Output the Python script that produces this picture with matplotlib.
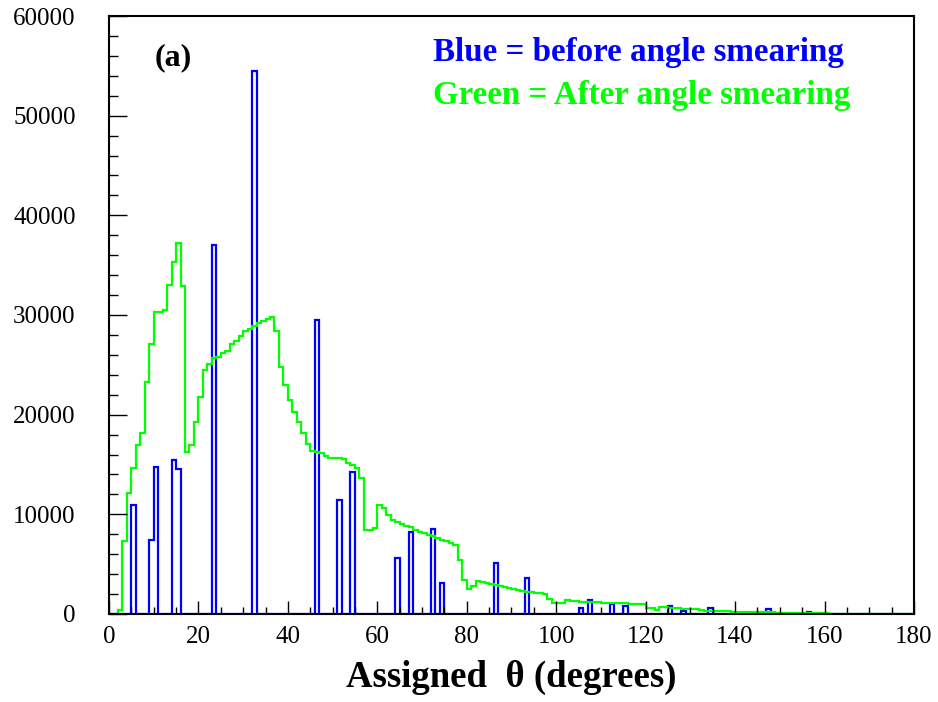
import numpy as np
import matplotlib
matplotlib.use("Agg")
import matplotlib.pyplot as plt
from matplotlib.ticker import MultipleLocator

plt.rcParams['font.family'] = ['Liberation Serif', 'DejaVu Serif']

# 1-degree bins from 0 to 180
edges = np.arange(0, 181, 1)

# reconstructed theta before smearing: only a handful of discrete angles are filled
blue_bins = [5, 9, 10, 14, 15, 23, 32, 46, 51, 54, 64, 67, 72, 74, 86, 93,
             105, 107, 112, 115, 125, 128, 134, 147, 156]
blue_counts = [10900, 7400, 14700, 15400, 14500, 37000, 54500, 29500, 11400,
               14200, 5600, 8200, 8500, 3100, 5100, 3600,
               550, 1450, 970, 820, 800, 330, 600, 530, 200]

# theta after smearing, one entry per bin
green_counts = [
    0, 0, 350, 7300, 12100, 14600, 17000, 18200, 23300, 27100,
    30300, 30300, 30500, 33000, 35300, 37200, 32900, 16300, 17000, 19300,
    21800, 24500, 25100, 25700, 25800, 26200, 26400, 27100, 27400, 27900,
    28400, 28600, 28900, 29200, 29400, 29600, 29800, 28400, 24800, 23000,
    21500, 20300, 19300, 18200, 17100, 16400, 16300, 16200, 15900, 15700,
    15700, 15600, 15500, 15100, 14900, 14600, 13600, 8400, 8400, 8600,
    10900, 10600, 9900, 9400, 9200, 9000, 8800, 8700, 8400, 8200,
    8100, 7900, 7800, 7600, 7400, 7300, 7100, 6900, 5400, 3400,
    2500, 2800, 3300, 3200, 3100, 3000, 2900, 2800, 2700, 2600,
    2500, 2400, 2300, 2250, 2200, 2150, 2100, 2000, 1470, 1140,
    1070, 1140, 1440, 1340, 1340, 1250, 1250, 1240, 1230, 1200,
    1150, 1130, 1120, 1100, 1080, 1060, 1050, 1030, 1000, 980,
    570, 560, 400, 680, 660, 580, 570, 560, 480, 470,
    460, 450, 350, 340, 330, 330, 320, 310, 300, 240,
    230, 230, 220, 220, 210, 180, 170, 170, 150, 145,
    140, 140, 135, 130, 130, 125, 120, 120, 115, 110,
    60, 0, 0, 0, 0, 0, 0, 0, 0, 0,
    0, 0, 0, 0, 0, 0, 0, 0, 0, 0,
]

blue_hist = np.zeros(len(edges) - 1)
blue_hist[blue_bins] = blue_counts

fig = plt.figure(figsize=(9.38, 7.02), dpi=100)
ax = fig.add_axes([0.1162, 0.1254, 0.8582, 0.8518])

ax.stairs(blue_hist, edges, color='#0000ff', linewidth=1.6)
ax.stairs(green_counts, edges, color='#00ff00', linewidth=1.6)

ax.set_xlim(0, 180)
ax.set_ylim(0, 60000)

for side in ['left', 'bottom', 'right', 'top']:
    ax.spines[side].set_linewidth(1.5)

ax.xaxis.set_major_locator(MultipleLocator(20))
ax.xaxis.set_minor_locator(MultipleLocator(5))
ax.yaxis.set_major_locator(MultipleLocator(10000))
ax.yaxis.set_minor_locator(MultipleLocator(2000))

ax.tick_params(axis='x', which='major', direction='in', length=9.5, width=1.0,
               labelsize=18, pad=8.5, top=False)
ax.tick_params(axis='x', which='minor', direction='in', length=5, width=1.0, top=False)
ax.tick_params(axis='y', which='major', direction='in', length=13, width=1.0,
               labelsize=18, pad=24, right=False)
ax.tick_params(axis='y', which='minor', direction='in', length=6.5, width=1.0, right=False)

ax.set_xlabel('Assigned  \u03b8 (degrees)', fontsize=26.5, fontweight='bold', labelpad=9)

ax.text(14.3, 55800, '(a)', fontsize=23, fontweight='bold', ha='center', va='center')
ax.text(0.403, 0.939, 'Blue = before angle smearing', transform=ax.transAxes,
        color='#0000ff', fontsize=23.8, fontweight='bold', ha='left', va='center')
ax.text(0.403, 0.867, 'Green = After angle smearing', transform=ax.transAxes,
        color='#00ff00', fontsize=23.8, fontweight='bold', ha='left', va='center')

fig.savefig('out.png', dpi=100)
